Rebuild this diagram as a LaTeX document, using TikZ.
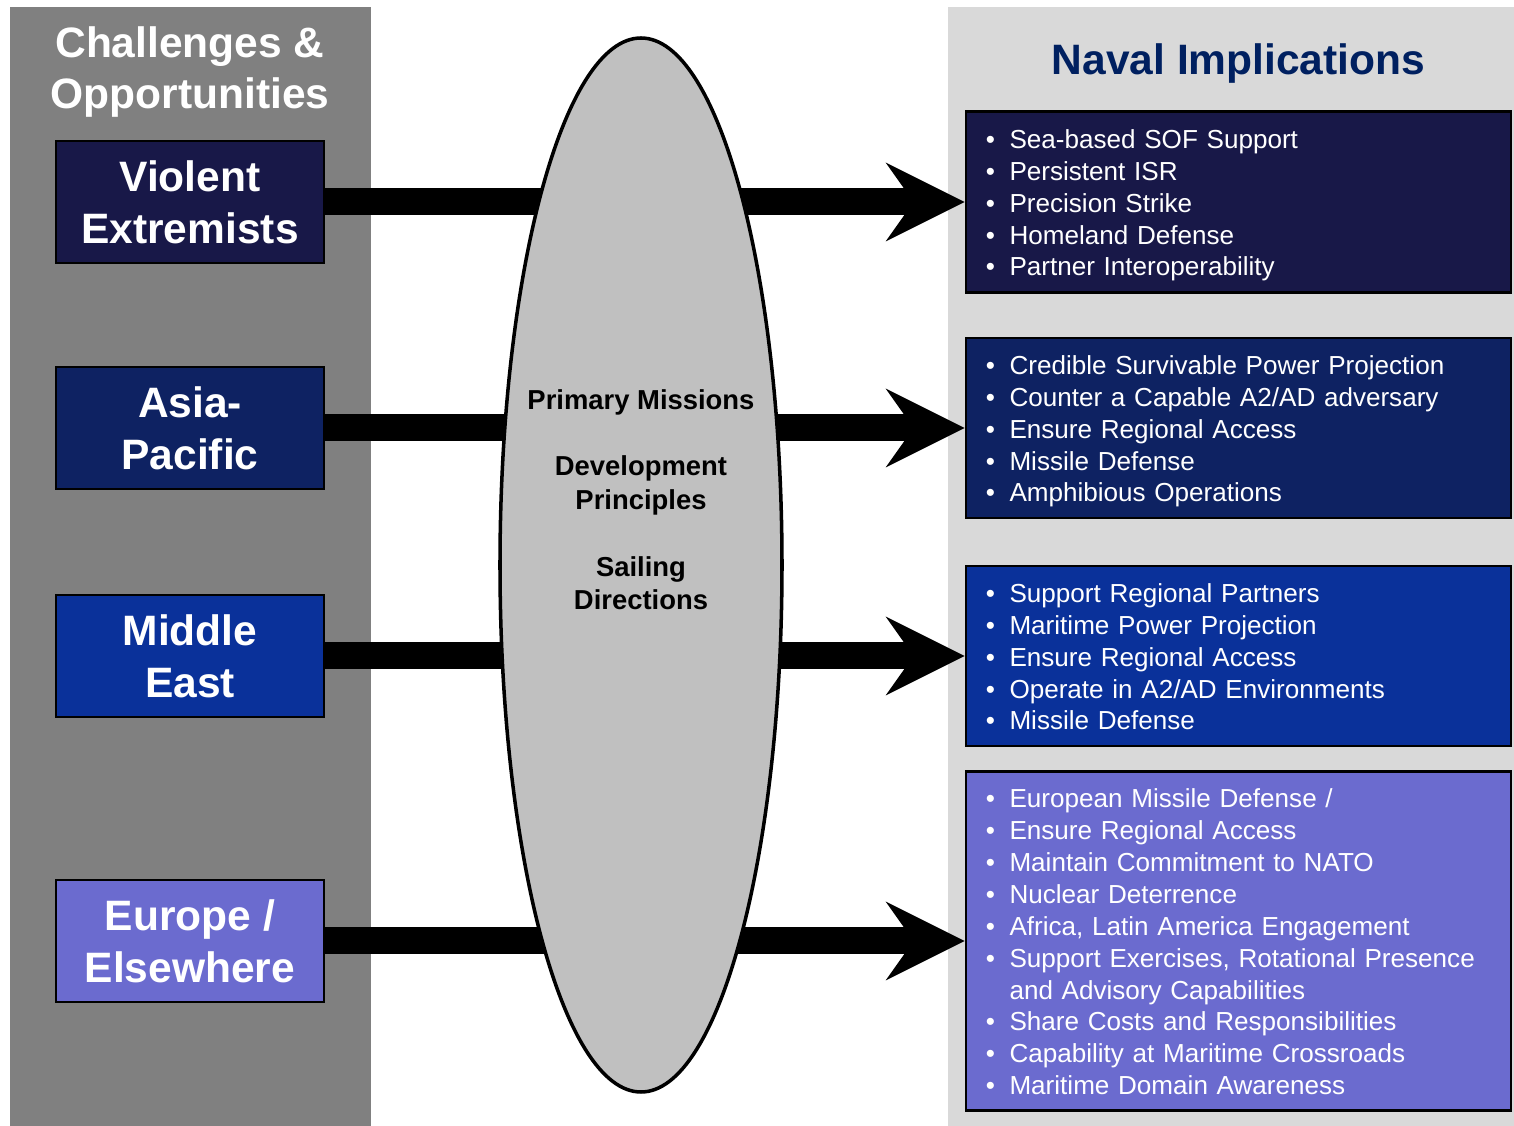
\documentclass[tikz,border=0pt]{standalone}
\usepackage{fontspec}
\setmainfont{Liberation Sans}
\usetikzlibrary{shapes.geometric,arrows.meta}

\definecolor{panelgray}{HTML}{808080}
\definecolor{implgray}{HTML}{D9D9D9}
\definecolor{ovalgray}{HTML}{C0C0C0}
\definecolor{navytitle}{HTML}{002060}
\definecolor{vecolor}{HTML}{181848}
\definecolor{apcolor}{HTML}{0E2262}
\definecolor{mecolor}{HTML}{0A319A}
\definecolor{eucolor}{HTML}{6B6BCF}

\newcommand{\navlist}[1]{\raisebox{-1.1pt}[\height][\depth]{\begin{tabular}{@{}l@{\hspace{4.1pt}}l@{}}#1\end{tabular}}}

\tikzset{
  region/.style={rectangle, draw=black, line width=0.8pt, text=white, align=center,
    minimum width=2.68cm, minimum height=1.22cm, inner sep=0pt,
    font=\fontsize{12.1}{14.7}\selectfont\bfseries},
  implbox/.style={rectangle, draw=black, line width=0.8pt, text=white, align=left,
    minimum width=5.45cm, inner xsep=0.2cm, inner ysep=0pt, text width=5.05cm,
    font=\fontsize{7.42}{9.07}\selectfont},
  bigarrow/.style={line width=0.27cm,
    -{Stealth[length=0.79cm, width=0.79cm, inset=0.28cm, line width=0pt]}}
}

\begin{document}
\begin{tikzpicture}
\fill[white] (0,0) rectangle (15.14,-11.26);
\useasboundingbox (0,0) rectangle (15.14,-11.26);

% panels
\fill[panelgray] (0.10,-0.07) rectangle (3.71,-11.26);
\fill[implgray] (9.48,-0.07) rectangle (15.14,-11.26);

\node at (1.90,-0.72) [text=white, align=center, font=\fontsize{12.1}{14.7}\selectfont\bfseries] (challenges) {Challenges \&\\Opportunities};
\node at (12.385,-0.64) [text=navytitle, font=\fontsize{12.1}{14.7}\selectfont\bfseries] (naval) {Naval Implications};

% regions
\node at (1.90,-2.02) [region, fill=vecolor] (ve) {Violent\\Extremists};
\node at (1.90,-4.28) [region, fill=apcolor] (ap) {Asia-\\Pacific};
\node at (1.90,-6.56) [region, fill=mecolor] (me) {Middle\\East};
\node at (1.90,-9.41) [region, fill=eucolor] (eu) {Europe /\\Elsewhere};

% implications
\node at (12.385,-2.02) [implbox, fill=vecolor, minimum height=1.81cm] (vi) {\navlist{
\textbullet & Sea-based SOF Support\\
\textbullet & Persistent ISR\\
\textbullet & Precision Strike\\
\textbullet & Homeland Defense\\
\textbullet & Partner Interoperability}};
\node at (12.385,-4.28) [implbox, fill=apcolor, minimum height=1.80cm] (ai) {\navlist{
\textbullet & Credible Survivable Power Projection\\
\textbullet & Counter a Capable A2/AD adversary\\
\textbullet & Ensure Regional Access\\
\textbullet & Missile Defense\\
\textbullet & Amphibious Operations}};
\node at (12.385,-6.56) [implbox, fill=mecolor, minimum height=1.80cm] (mi) {\navlist{
\textbullet & Support Regional Partners\\
\textbullet & Maritime Power Projection\\
\textbullet & Ensure Regional Access\\
\textbullet & Operate in A2/AD Environments\\
\textbullet & Missile Defense}};
\node at (12.385,-9.41) [implbox, fill=eucolor, minimum height=3.39cm] (ei) {\navlist{
\textbullet & European Missile Defense /\\
\textbullet & Ensure Regional Access\\
\textbullet & Maintain Commitment to NATO\\
\textbullet & Nuclear Deterrence\\
\textbullet & Africa, Latin America Engagement\\
\textbullet & Support Exercises, Rotational Presence\\
 & and Advisory Capabilities\\
\textbullet & Share Costs and Responsibilities\\
\textbullet & Capability at Maritime Crossroads\\
\textbullet & Maritime Domain Awareness}};

\draw[bigarrow] (ve.east) -- (vi.west);
\draw[bigarrow] (ap.east) -- (ai.west);
\draw[bigarrow] (me.east) -- (mi.west);
\draw[bigarrow] (eu.east) -- (ei.west);

% the oval on top of the arrows
\node at (6.41,-5.65) [ellipse, draw, line width=1pt, fill=ovalgray, minimum width=2.82cm, minimum height=10.54cm] (core) {};
\node at (6.41,-4.995) [align=center, font=\fontsize{7.8}{9.5}\selectfont\bfseries] (principles) {Primary Missions\\[9.5pt]Development\\Principles\\[9.5pt]Sailing\\Directions};
\end{tikzpicture}
\end{document}
